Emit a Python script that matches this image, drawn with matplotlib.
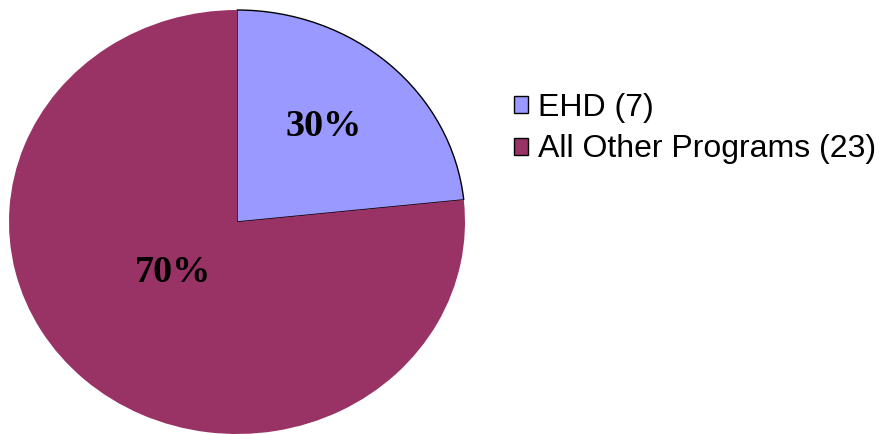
import numpy as np
import matplotlib.pyplot as plt
from matplotlib.patches import Patch

programs = ["EHD (7)", "All Other Programs (23)"]
counts = [7, 23]
pct_labels = ["30%", "70%"]
colors = ["#9999ff", "#993366"]

fig = plt.figure(figsize=(8.8, 4.34), dpi=100)
# pie is a bit wider than tall, so the axes are not square
ax = fig.add_axes([9 / 880, 0, 456 / 880, 424 / 434])

wedges, _ = ax.pie(counts, colors=colors, startangle=90, counterclock=False,
                   radius=1, labels=None)
wedges[0].set_edgecolor("black")
wedges[0].set_linewidth(1.0)
wedges[1].set_edgecolor("none")
ax.set_aspect("auto")
ax.set_xlim(-1, 1)
ax.set_ylim(-1, 1)
ax.axis("off")

# percentage text inside each wedge
dist = [0.59, 0.367]
shift = [2, -7.6]
for w, txt, d, s in zip(wedges, pct_labels, dist, shift):
    mid = np.deg2rad((w.theta1 + w.theta2) / 2 + s)
    ax.text(d * np.cos(mid), d * np.sin(mid), txt, ha="center", va="center",
            fontsize=27.5, fontweight="bold", family="Liberation Serif")

handles = [Patch(facecolor=c, edgecolor="black", linewidth=1.0) for c in colors]
fig.legend(handles, programs, loc="upper left", bbox_to_anchor=(514 / 880, 1 - 93 / 434),
           frameon=False, prop={"family": "Liberation Sans", "size": 23},
           handlelength=0.45, handleheight=0.45, handletextpad=0.3,
           labelspacing=0.36, borderpad=0, borderaxespad=0)

fig.savefig("out.png", dpi=100)
